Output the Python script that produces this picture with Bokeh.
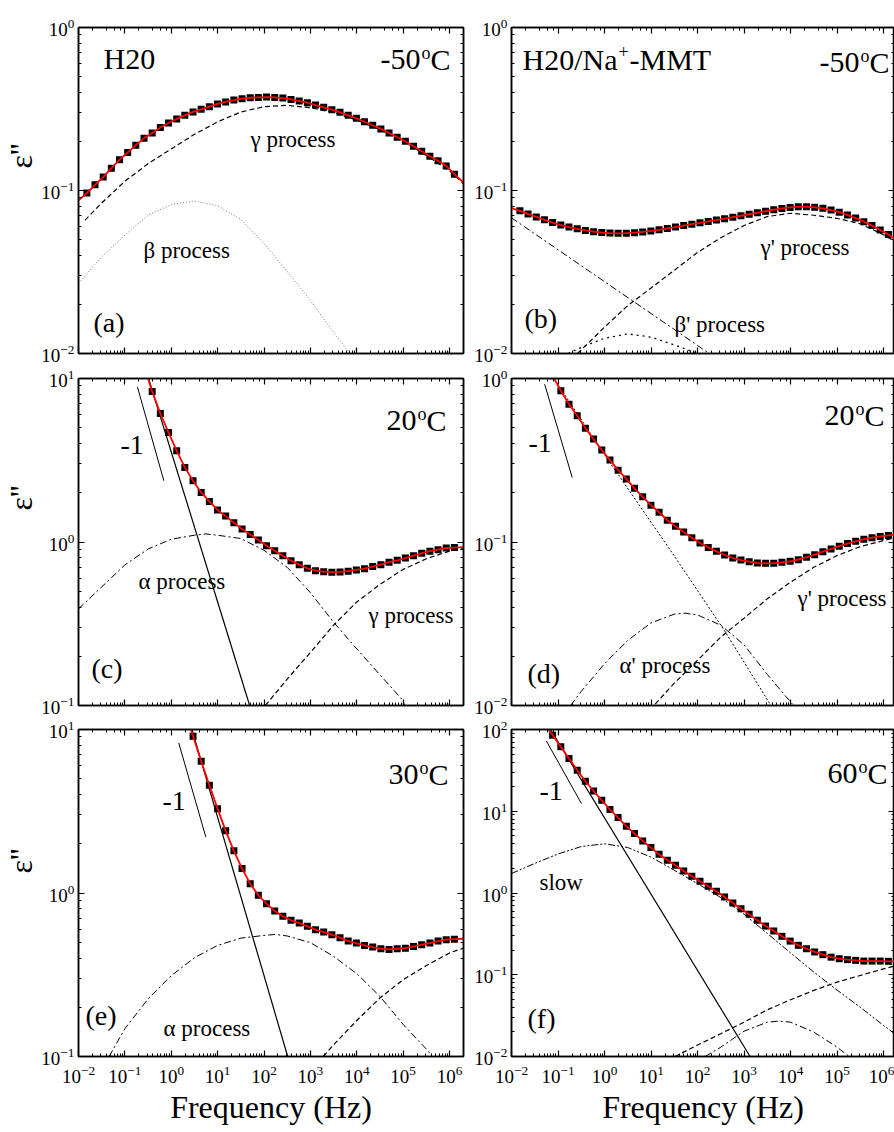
import math
from bokeh.plotting import figure
from bokeh.models import LogAxis, Label, Range1d, CustomJSTickFormatter, FixedTicker, Title
from bokeh.layouts import column, row
from bokeh.embed import file_html
from bokeh.resources import INLINE

FONT = "Liberation Serif"

# measured frequencies of the data points (Hz)
FREQ = [0.01514, 0.0227, 0.0341, 0.0511, 0.0766, 0.115, 0.172, 0.259, 0.388, 0.582,
        0.873, 1.31, 1.96, 2.95, 4.42, 6.63, 9.95, 14.9, 22.4, 33.6,
        50.4, 75.5, 113, 170, 255, 382, 574, 860, 1290, 1936,
        2904, 4356, 6534, 9801, 14700, 22050, 33080, 49620, 74430, 111600,
        167500, 251200, 376800, 565200, 847800, 1271700]

# ---------------- panel (a) H20, -50 C ----------------
A_FIRST = 0
A_EPS = [0.0964, 0.1084, 0.1208, 0.1371, 0.1542, 0.1710, 0.1897, 0.2089, 0.2254, 0.2432,
         0.2594, 0.2748, 0.2891, 0.3034, 0.3148, 0.3266, 0.3396, 0.3491, 0.3589, 0.3656,
         0.3707, 0.3724, 0.3741, 0.3724, 0.3690, 0.3622, 0.3540, 0.3459, 0.3342, 0.3236,
         0.3133, 0.3020, 0.2891, 0.2773, 0.2642, 0.2512, 0.2388, 0.2254, 0.2123, 0.2004,
         0.1866, 0.1742, 0.1622, 0.1521, 0.1416, 0.1260]
A_FIT_LEFT = [(0.01, 0.087)]
A_FIT_RIGHT = [(2.0e6, 0.112)]
A_GAMMA_F = [0.0138, 0.0316, 0.1, 0.316, 1, 3.16, 10, 31.6, 100, 316, 1000, 3162, 1e4, 31620, 1e5, 316200, 1e6, 2e6]
A_GAMMA_E = [0.0658, 0.0838, 0.114, 0.146, 0.180, 0.221, 0.264, 0.303, 0.327, 0.333, 0.322, 0.301, 0.270, 0.236, 0.200, 0.164, 0.132, 0.110]
A_BETA_F = [0.01, 0.0316, 0.1, 0.316, 1, 3.16, 10, 31.6, 100, 316, 1000, 3162, 7080]
A_BETA_E = [0.0269, 0.0392, 0.0532, 0.0706, 0.082, 0.0863, 0.0805, 0.0664, 0.0473, 0.0318, 0.0212, 0.0135, 0.0100]

# ---------------- panel (b) H20/Na+-MMT, -50 C ----------------
B_FIRST = 0
B_EPS = [0.0750, 0.0718, 0.0688, 0.0661, 0.0636, 0.0614, 0.0597, 0.0582, 0.0569, 0.0559,
         0.0552, 0.0548, 0.0546, 0.0547, 0.0551, 0.0557, 0.0565, 0.0574, 0.0585, 0.0597,
         0.0609, 0.0621, 0.0633, 0.0646, 0.0659, 0.0672, 0.0686, 0.0700, 0.0715, 0.0730,
         0.0746, 0.0762, 0.0776, 0.0787, 0.0794, 0.0795, 0.0789, 0.0777, 0.0759, 0.0736,
         0.0708, 0.0677, 0.0644, 0.0609, 0.0573, 0.0537]
B_FIT_LEFT = [(0.01, 0.078)]
B_FIT_RIGHT = [(1.72e6, 0.0505)]
B_DD_F = [0.01, 0.1, 1, 10, 100, 178]
B_DD_E = [0.068, 0.0433, 0.0276, 0.0176, 0.0112, 0.0100]
B_GAMMA_F = [0.263, 1, 3.16, 10, 31.6, 100, 316, 1000, 3162, 1e4, 31620, 1e5, 316200, 1e6, 1.72e6]
B_GAMMA_E = [0.0100, 0.0145, 0.0197, 0.0252, 0.0324, 0.0417, 0.0513, 0.061, 0.0692, 0.0725, 0.0705, 0.0675, 0.0625, 0.0535, 0.049]
B_BETA_F = [0.166, 0.316, 1, 3.16, 10, 31.6, 100]
B_BETA_E = [0.0100, 0.0109, 0.0124, 0.0132, 0.0126, 0.0113, 0.0100]

# ---------------- panel (c) H20, 20 C ----------------
C_FIRST = 7
C_EPS = [11.9, 8.33, 6.11, 4.68, 3.61, 2.86, 2.37, 2.01, 1.77, 1.57,
         1.44, 1.31, 1.20, 1.11, 1.03, 0.950, 0.885, 0.825, 0.769, 0.727,
         0.691, 0.668, 0.658, 0.654, 0.656, 0.663, 0.675, 0.687, 0.707, 0.727,
         0.752, 0.773, 0.798, 0.825, 0.853, 0.878, 0.898, 0.919, 0.925]
C_FIT_LEFT = []
C_FIT_RIGHT = [(2.0e6, 0.93)]
C_ALPHA_F = [0.01, 0.0316, 0.1, 0.316, 1, 3.16, 5.56, 10, 31.6, 100, 316, 1000, 3162, 1e4, 31620, 1e5, 107000]
C_ALPHA_E = [0.39, 0.531, 0.724, 0.906, 1.04, 1.10, 1.12, 1.10, 1.05, 0.89, 0.70, 0.49, 0.323, 0.222, 0.154, 0.107, 0.1]
C_GAMMA_F = [107, 316, 1000, 3162, 1e4, 31620, 1e5, 316200, 1e6, 2e6]
C_GAMMA_E = [0.100, 0.145, 0.211, 0.31, 0.43, 0.55, 0.68, 0.79, 0.88, 0.91]
C_COND_F = [0.324, 49]
C_COND_E = [10, 0.1]
C_SLOPE_F = [0.186, 0.692]
C_SLOPE_E = [8.9, 2.37]

# ---------------- panel (d) H20/Na+-MMT, 20 C ----------------
D_FIRST = 4
D_EPS = [1.04, 0.841, 0.697, 0.591, 0.497, 0.426, 0.365, 0.317, 0.275, 0.243,
         0.213, 0.189, 0.168, 0.152, 0.136, 0.125, 0.115, 0.106, 0.0986, 0.0927,
         0.0877, 0.0833, 0.0798, 0.0776, 0.0758, 0.0744, 0.0741, 0.0741, 0.0751, 0.0762,
         0.0780, 0.0806, 0.0837, 0.0873, 0.0906, 0.0943, 0.0978, 0.1010, 0.1038, 0.1062,
         0.1082, 0.1097]
D_FIT_LEFT = []
D_FIT_RIGHT = [(1.72e6, 0.111)]
D_SLOPE_F = [0.0516, 0.202]
D_SLOPE_E = [0.923, 0.248]
D_COND_F = [0.0813, 1.23, 33.1, 380, 3800]
D_COND_E = [1.0, 0.314, 0.0806, 0.0287, 0.0100]
D_ALPHA_F = [0.186, 0.316, 1, 3.16, 10, 31.6, 53.7, 100, 316, 1000, 3162, 1e4, 11750]
D_ALPHA_E = [0.0100, 0.0122, 0.0180, 0.025, 0.032, 0.0362, 0.0367, 0.0358, 0.031, 0.0235, 0.0155, 0.0105, 0.0100]
D_GAMMA_F = [12.3, 31.6, 100, 316, 1000, 3162, 1e4, 31620, 1e5, 316200, 1e6, 1.72e6]
D_GAMMA_E = [0.0102, 0.0137, 0.0189, 0.0262, 0.0342, 0.0449, 0.0568, 0.070, 0.0826, 0.0937, 0.102, 0.106]

# ---------------- panel (e) H20, 30 C ----------------
E_FIRST = 12
E_EPS = [13.0, 9.10, 6.40, 4.56, 3.28, 2.40, 1.81, 1.41, 1.14, 0.968,
         0.861, 0.776, 0.720, 0.681, 0.655, 0.625, 0.597, 0.577, 0.556, 0.533,
         0.508, 0.494, 0.478, 0.467, 0.456, 0.452, 0.456, 0.460, 0.471, 0.483,
         0.494, 0.508, 0.518, 0.522]
E_FIT_LEFT = []
E_FIT_RIGHT = [(2.0e6, 0.525)]
E_COND_F = [2.79, 324]
E_COND_E = [10, 0.1]
E_SLOPE_F = [1.45, 5.56]
E_SLOPE_E = [8.28, 2.20]
E_ALPHA_F = [0.0457, 0.1, 0.316, 1, 3.16, 10, 31.6, 100, 174, 316, 1000, 3162, 1e4, 31620, 1e5, 316200, 426600]
E_ALPHA_E = [0.1, 0.148, 0.225, 0.312, 0.402, 0.478, 0.53, 0.55, 0.558, 0.546, 0.497, 0.41, 0.321, 0.233, 0.157, 0.111, 0.1]
E_GAMMA_F = [1905, 3162, 1e4, 31620, 1e5, 316200, 1e6, 2e6]
E_GAMMA_E = [0.100, 0.118, 0.166, 0.228, 0.295, 0.36, 0.43, 0.46]

# ---------------- panel (f) H20/Na+-MMT, 60 C ----------------
F_FIRST = 3
F_EPS = [118, 85.3, 61.4, 44.2, 31.8, 23.3, 17.7, 13.6, 10.5, 8.36,
         6.55, 5.33, 4.34, 3.59, 2.97, 2.51, 2.18, 1.86, 1.60, 1.39,
         1.21, 1.05, 0.893, 0.755, 0.643, 0.548, 0.463, 0.394, 0.343, 0.295,
         0.258, 0.229, 0.208, 0.190, 0.176, 0.164, 0.157, 0.153, 0.150, 0.147,
         0.147, 0.147, 0.146]
F_FIT_LEFT = []
F_FIT_RIGHT = [(1.72e6, 0.146)]
F_SLOPE_F = [0.0561, 0.320]
F_SLOPE_E = [72.6, 12.4]
F_COND_F = [0.0692, 1349]
F_COND_E = [100, 0.01]
F_SLOW_F = [0.01, 0.0316, 0.1, 0.316, 1, 3.16, 10, 31.6, 100, 316, 1000, 3162, 1e4, 31620, 1e5, 316200, 1e6, 1.72e6]
F_SLOW_E = [1.73, 2.3, 3.0, 3.7, 4.0, 3.6, 2.75, 1.9, 1.3, 0.88, 0.55, 0.32, 0.185, 0.108, 0.065, 0.040, 0.024, 0.019]
F_GAMMA_F = [32.7, 100, 316, 1000, 3162, 1e4, 31620, 1e5, 316200, 1e6, 1.72e6]
F_GAMMA_E = [0.0100, 0.0138, 0.019, 0.0263, 0.0372, 0.0494, 0.0643, 0.0813, 0.098, 0.118, 0.128]
F_FAST_F = [145, 316, 1000, 3162, 5623, 1e4, 31620, 1e5, 182000]
F_FAST_E = [0.0100, 0.013, 0.0204, 0.0263, 0.0271, 0.0263, 0.0199, 0.013, 0.0100]

# ---------------- styles ----------------
SOLID = dict(line_color="black", line_width=1.2)
THIN = dict(line_color="black", line_width=1.0)
DASH = dict(line_color="black", line_width=1.2, line_dash="5 3")
DOT_FINE = dict(line_color="#666666", line_width=0.9, line_dash="1 2")
DOT = dict(line_color="black", line_width=1.3, line_dash="2 4")
DOT_D = dict(line_color="black", line_width=1.0, line_dash="2 2")
DASHDOT = dict(line_color="black", line_width=1.0, line_dash="7 3 2 3")
DASHDOTDOT = dict(line_color="black", line_width=1.0, line_dash="7 2 2 2 2 2")

LEFT_W, RIGHT_W = 471, 423
ROW_H = [366, 351, 415]
BORD_T = [27, 12, 12]
BORD_B = [13, 12, 76]
FRAME_H = [326, 327, 327]
EPS_OFFSET = [116, 107, 119]   # top end of the rotated ε'' label below the frame top


def decade_ticker(lo_exp, hi_exp):
    major = [10.0 ** k for k in range(lo_exp, hi_exp + 1)]
    minor = [m * 10.0 ** k for k in range(lo_exp, hi_exp) for m in range(2, 10)]
    return FixedTicker(ticks=major, minor_ticks=minor)


def style_axis(ax, show_labels, ticker=None, xlab=False):
    if ticker is not None:
        ax.ticker = ticker
    ax.axis_line_color = "black"
    ax.axis_line_width = 1.5
    ax.major_tick_in = 6
    ax.major_tick_out = 0
    ax.minor_tick_in = 3
    ax.minor_tick_out = 0
    ax.major_tick_line_color = "black"
    ax.major_tick_line_width = 1.2
    ax.minor_tick_line_color = "black"
    ax.minor_tick_line_width = 1.0
    ax.major_label_text_font = FONT
    ax.major_label_text_color = "black"
    if show_labels:
        ax.major_label_text_font_size = "19px"
        ax.major_label_standoff = 9 if xlab else 4
    else:
        ax.formatter = CustomJSTickFormatter(code="return ''")
        ax.major_label_text_font_size = "0px"
        ax.major_label_standoff = 0


def make_fig(r, left, yexp, xend, show_x):
    p = figure(width=LEFT_W if left else RIGHT_W, height=ROW_H[r],
               x_axis_type="log", y_axis_type="log",
               x_range=Range1d(0.01, xend), y_range=Range1d(10.0 ** yexp[0], 10.0 ** yexp[1]),
               output_backend="svg", toolbar_location=None,
               min_border_left=75 if left else 38, min_border_right=8 if left else 0,
               min_border_top=BORD_T[r], min_border_bottom=BORD_B[r])
    p.xgrid.visible = False
    p.ygrid.visible = False
    p.outline_line_color = "black"
    p.outline_line_width = 1.5
    p.background_fill_color = "white"
    p.border_fill_color = "white"
    p.add_layout(LogAxis(), "above")
    p.add_layout(LogAxis(), "right")
    style_axis(p.below[0], show_x, xlab=True)
    style_axis(p.left[0], True, decade_ticker(*yexp))
    style_axis(p.above[0], False)
    style_axis(p.right[0], False, decade_ticker(*yexp))
    if show_x:
        ax = p.below[0]
        ax.axis_label = "Frequency (Hz)"
        ax.axis_label_text_font = FONT
        ax.axis_label_text_font_size = "32px"
        ax.axis_label_text_font_style = "normal"
        ax.axis_label_text_color = "black"
        ax.axis_label_standoff = 3
    if left:
        p.add_layout(Title(text="ε''", align="right", offset=EPS_OFFSET[r], text_font=FONT,
                           text_font_size="32px", text_font_style="normal",
                           text_color="black", standoff=0), "left")
    return p


def text(p, fh, dx, dy, s, size, align="left"):
    # dy: baseline distance below the frame top
    p.add_layout(Label(x=dx, y=fh - (dy - 0.34 * size), x_units="screen", y_units="screen",
                       text=s, text_font=FONT, text_font_size=f"{size}px", text_color="black",
                       text_align=align, text_baseline="middle"))


def temp_label(p, fh, right, dy, num, size=30):
    cw = 0.667 * size
    osz = 0.6 * size
    text(p, fh, right, dy, "C", size, align="right")
    text(p, fh, right - cw, dy - 0.36 * size, "o", osz, align="right")
    text(p, fh, right - cw - 0.5 * osz - 1, dy, num, size, align="right")


def draw(p, first, eps, fit_left, fit_right, curves):
    f = FREQ[first:first + len(eps)]
    for cf, ce, st in curves:
        p.line(cf, ce, **st)
    p.scatter(f, eps, marker="square", size=7, fill_color="black", line_color="black", line_width=0)
    fx = [q[0] for q in fit_left] + f + [q[0] for q in fit_right]
    fy = [q[1] for q in fit_left] + eps + [q[1] for q in fit_right]
    p.line(fx, fy, line_color="#ff0000", line_width=1.8)


XEND_L, XEND_R = 2.0e6, 1.72e6

# (a)
pa = make_fig(0, True, (-2, 0), XEND_L, False)
draw(pa, A_FIRST, A_EPS, A_FIT_LEFT, A_FIT_RIGHT,
     [(A_BETA_F, A_BETA_E, DOT_FINE), (A_GAMMA_F, A_GAMMA_E, DASH)])
fh = FRAME_H[0]
text(pa, fh, 25, 41.5, "H20", 30)
temp_label(pa, fh, 372, 42, "-50")
text(pa, fh, 172, 120, "γ process", 23)
text(pa, fh, 65, 231, "β process", 23)
text(pa, fh, 15, 305, "(a)", 28)

# (b)
pb = make_fig(0, False, (-2, 0), XEND_R, False)
draw(pb, B_FIRST, B_EPS, B_FIT_LEFT, B_FIT_RIGHT,
     [(B_BETA_F, B_BETA_E, DOT), (B_DD_F, B_DD_E, DASHDOT), (B_GAMMA_F, B_GAMMA_E, DASH)])
text(pb, fh, 11, 42, "H20/Na", 30)
text(pb, fh, 107, 30, "+", 18)
text(pb, fh, 118, 42, "-MMT", 30)
temp_label(pb, fh, 378, 45, "-50")
text(pb, fh, 249, 228, "γ' process", 23)
text(pb, fh, 163, 305, "β' process", 23)
text(pb, fh, 13, 301, "(b)", 28)

# (c)
pc = make_fig(1, True, (-1, 1), XEND_L, False)
draw(pc, C_FIRST, C_EPS, C_FIT_LEFT, C_FIT_RIGHT,
     [(C_ALPHA_F, C_ALPHA_E, DASHDOT), (C_GAMMA_F, C_GAMMA_E, DASH),
      (C_COND_F, C_COND_E, SOLID), (C_SLOPE_F, C_SLOPE_E, THIN)])
fh = FRAME_H[1]
temp_label(pc, fh, 368, 52, "20")
text(pc, fh, 42, 76, "-1", 28)
text(pc, fh, 60, 211, "α process", 23)
text(pc, fh, 290, 245, "γ process", 23)
text(pc, fh, 13, 300, "(c)", 28)

# (d)
pd = make_fig(1, False, (-2, 0), XEND_R, False)
draw(pd, D_FIRST, D_EPS, D_FIT_LEFT, D_FIT_RIGHT,
     [(D_COND_F, D_COND_E, DOT_D), (D_ALPHA_F, D_ALPHA_E, DASHDOT),
      (D_GAMMA_F, D_GAMMA_E, DASH), (D_SLOPE_F, D_SLOPE_E, THIN)])
temp_label(pd, fh, 373, 47, "20")
text(pd, fh, 17, 74, "-1", 28)
text(pd, fh, 286, 228, "γ' process", 23)
text(pd, fh, 108, 295, "α' process", 23)
text(pd, fh, 16, 305, "(d)", 28)

# (e)
pe = make_fig(2, True, (-1, 1), XEND_L, True)
draw(pe, E_FIRST, E_EPS, E_FIT_LEFT, E_FIT_RIGHT,
     [(E_ALPHA_F, E_ALPHA_E, DASHDOT), (E_GAMMA_F, E_GAMMA_E, DASH),
      (E_COND_F, E_COND_E, SOLID), (E_SLOPE_F, E_SLOPE_E, THIN)])
fh = FRAME_H[2]
temp_label(pe, fh, 370, 55, "30")
text(pe, fh, 84, 81, "-1", 28)
text(pe, fh, 85, 307, "α process", 23)
text(pe, fh, 7, 296, "(e)", 28)

# (f)
pf = make_fig(2, False, (-2, 2), XEND_R, True)
draw(pf, F_FIRST, F_EPS, F_FIT_LEFT, F_FIT_RIGHT,
     [(F_SLOW_F, F_SLOW_E, DASHDOTDOT), (F_GAMMA_F, F_GAMMA_E, DASH),
      (F_FAST_F, F_FAST_E, DASHDOT), (F_COND_F, F_COND_E, SOLID),
      (F_SLOPE_F, F_SLOPE_E, THIN)])
temp_label(pf, fh, 376, 54, "60")
text(pf, fh, 28, 71, "-1", 28)
text(pf, fh, 28, 161, "slow", 23)
text(pf, fh, 16, 299, "(f)", 28)

layout = column(row(pa, pb), row(pc, pd), row(pe, pf))
open("out.html", "w").write(file_html(layout, INLINE))
